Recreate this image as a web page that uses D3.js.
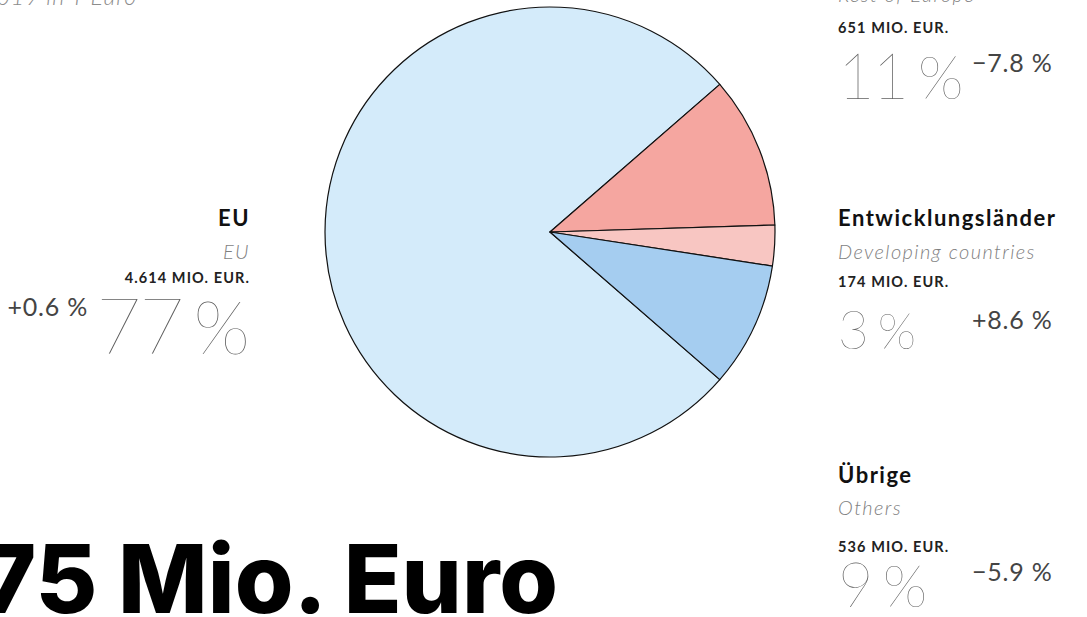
<!DOCTYPE html>
<html>
<head>
<meta charset="utf-8">
<script src="https://cdn.jsdelivr.net/npm/d3@7"></script>
<style>
  body { margin: 0; background: #fff; overflow: hidden; }
</style>
</head>
<body>
<script>
// Daten
const categories = ["EU", "Übriges Europa", "Entwicklungsländer", "Übrige"];
const categoriesEn = ["EU", "Rest of Europe", "Developing countries", "Others"];
const values = [4614, 651, 174, 536];          // Mio. Euro
const changes = [0.6, -7.8, 8.6, -5.9];        // Veränderung in %
const colors = ["#d4ebfa", "#f5a6a0", "#f8c6c2", "#a5cdf0"];
const total = d3.sum(values);

const width = 1087;
const height = 617;

// Position der Beschriftungsblöcke
const layout = [
  { x: 250, anchor: "end",   yName: 226, yEn: 259, yAmount: 283, yPct: 354 },
  { x: 838, anchor: "start", yName: -30, yEn: 2,   yAmount: 33,  yPct: 99 },
  { x: 838, anchor: "start", yName: 226, yEn: 259, yAmount: 287, yPct: 349 },
  { x: 838, anchor: "start", yName: 483, yEn: 515, yAmount: 552, yPct: 607 }
];

const svg = d3.select("body").append("svg")
    .attr("width", width)
    .attr("height", height)
    .attr("viewBox", [0, 0, width, height])
    .style("font-family", "Lato, 'Open Sans', sans-serif");

// Kreisdiagramm, EU links zentriert
const euShare = values[0] / total;
const start = 1.5 * Math.PI - euShare * Math.PI;
const pie = d3.pie().sort(null).value(d => d)
    .startAngle(start).endAngle(start + 2 * Math.PI);
const arc = d3.arc().innerRadius(0).outerRadius(225);

svg.append("g")
    .attr("transform", "translate(550,232)")
    .selectAll("path")
    .data(pie(values))
    .join("path")
    .attr("d", arc)
    .attr("fill", (d, i) => colors[i])
    .attr("stroke", "#111")
    .attr("stroke-width", 1.2)
    .attr("stroke-linejoin", "round");

// Schriftgröße der Prozentzahl nach Anteil
const pctSize = d3.scaleLog().domain([3, 77]).range([53, 78]);
const fmtChange = v => (v >= 0 ? "+" : "\u2212") + Math.abs(v).toFixed(1) + " %";
const fmtAmount = d3.formatLocale({ decimal: ",", thousands: ".", grouping: [3] }).format(",d");

const blocks = svg.append("g").selectAll("g")
    .data(values.map((v, i) => ({ v, i, pct: Math.round(v / total * 100) })))
    .join("g")
    .attr("text-anchor", d => layout[d.i].anchor);

blocks.append("text")
    .attr("x", d => layout[d.i].x)
    .attr("y", d => layout[d.i].yName)
    .attr("font-size", 22)
    .attr("font-weight", 700)
    .attr("letter-spacing", 1.5)
    .attr("fill", "#111")
    .text(d => categories[d.i]);

blocks.append("text")
    .attr("x", d => layout[d.i].x)
    .attr("y", d => layout[d.i].yEn)
    .attr("font-size", 20)
    .attr("font-weight", 300)
    .attr("font-style", "italic")
    .attr("letter-spacing", 1.4)
    .attr("fill", "#7f7f7f")
    .text(d => categoriesEn[d.i]);

blocks.append("text")
    .attr("x", d => layout[d.i].x)
    .attr("y", d => layout[d.i].yAmount)
    .attr("font-size", 14.5)
    .attr("font-weight", 700)
    .attr("letter-spacing", 1.1)
    .attr("fill", "#222")
    .text(d => fmtAmount(values[d.i]) + " MIO. EUR.");

const big = blocks.append("text")
    .attr("x", d => layout[d.i].x)
    .attr("y", d => layout[d.i].yPct)
    .attr("font-size", d => pctSize(d.pct))
    .attr("font-weight", 200)
    .attr("fill", "#5f5f5f");
big.append("tspan")
    .attr("letter-spacing", -2)
    .text(d => d.pct);
big.append("tspan")
    .attr("dx", 11)
    .attr("font-size", d => 0.95 * pctSize(d.pct))
    .text("%");

// Veränderung, oben bündig mit der Prozentzahl
blocks.append("text")
    .attr("x", function(d) {
      const l = layout[d.i];
      if (l.anchor === "start") return 972;
      return l.x - big.nodes()[d.i].getBBox().width - 8;
    })
    .attr("y", d => layout[d.i].yPct - 0.72 * pctSize(d.pct) + 0.72 * 25)
    .attr("font-size", 25)
    .attr("font-weight", 400)
    .attr("letter-spacing", 0.8)
    .attr("fill", "#444")
    .text(d => fmtChange(changes[d.i]));

// Titel und Untertitel (angeschnitten)
svg.append("text")
    .attr("x", 137)
    .attr("y", 5)
    .attr("text-anchor", "end")
    .attr("font-size", 23)
    .attr("font-weight", 300)
    .attr("font-style", "italic")
    .attr("letter-spacing", 1)
    .attr("fill", "#8c8c8c")
    .text("Exporte 2019 in T Euro");

svg.append("text")
    .attr("x", 558)
    .attr("y", 613)
    .attr("text-anchor", "end")
    .style("font-family", "Inter, Roboto, sans-serif")
    .attr("font-size", 95)
    .attr("font-weight", 800)
    .attr("fill", "#000")
    .text(d3.format(",d")(total).replace(",", ".") + " Mio. Euro");
</script>
</body>
</html>
